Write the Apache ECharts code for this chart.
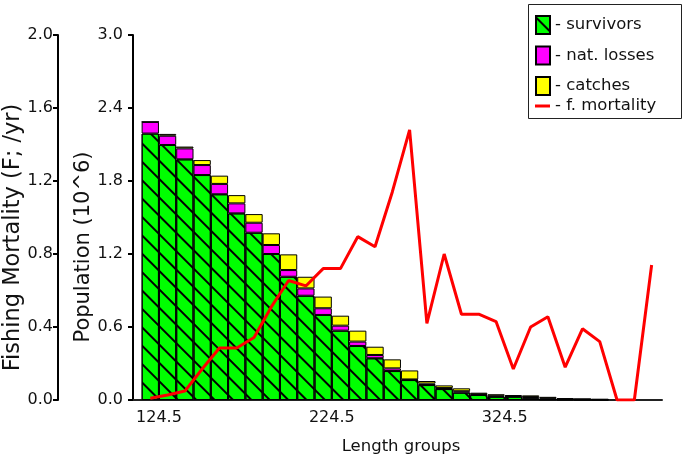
<!DOCTYPE html>
<html>
<head>
<meta charset="utf-8">
<script src="https://cdn.jsdelivr.net/npm/echarts@6/dist/echarts.min.js"></script>
<style>
html,body{margin:0;padding:0;background:#fff;}
#c{width:685px;height:460px;}
</style>
</head>
<body>
<div id="c"></div>
<script>
// Length-group mid points (bars and line points)
const lengthMid = [119.5,129.5,139.5,149.5,159.5,169.5,179.5,189.5,199.5,209.5,
  219.5,229.5,239.5,249.5,259.5,269.5,279.5,289.5,299.5,309.5,
  319.5,329.5,339.5,349.5,359.5,369.5,379.5,389.5,399.5,409.5];
// Population (10^6) per length group
const survivors = [2.19,2.096,1.978,1.849,1.691,1.534,1.375,1.20,1.013,0.857,
  0.699,0.570,0.444,0.343,0.238,0.164,0.123,0.090,0.060,0.041,
  0.027,0.027,0.014,0.006,0.004,0.003,0.002];
const natLosses = [0.096,0.076,0.090,0.082,0.085,0.082,0.082,0.074,0.055,0.060,
  0.055,0.041,0.036,0.027,0.022,0.005,0.012,0.008,0.012,0.006,
  0.008,0.005,0.010,0.008,0.004,0.003,0.002];
const catches = [0.0,0.015,0.015,0.041,0.068,0.068,0.071,0.096,0.129,0.096,
  0.096,0.082,0.090,0.068,0.074,0.074,0.021,0.022,0.024,0.013,
  0.012,0.008,0.014,0.012,0.006,0.004,0.003];
// Fishing mortality F (/yr)
const fMortality = [0.01,0.027,0.049,0.17,0.285,0.285,0.342,0.51,0.655,0.625,
  0.72,0.72,0.895,0.84,1.14,1.48,0.42,0.80,0.47,0.47,
  0.43,0.17,0.40,0.456,0.18,0.39,0.32,0.0,0.0,0.74];
const xTickLabels = [124.5,224.5,324.5];

const FONT = 'DejaVu Sans';
const TXT = '#111';
// bar data as [value, length] so the stacked dimension is the value (encode swaps axes)
const barPairs = arr => arr.map((v,i)=>[v, lengthMid[i]]);
const linePairs = arr => arr.map((v,i)=>[lengthMid[i], v]);

const chart = echarts.init(document.getElementById('c'), null, {renderer:'canvas'});
const barCommon = {
  type:'bar', stack:'pop', yAxisIndex:1, barWidth:17.3,
  encode:{x:1, y:0}
};
chart.setOption({
  animation:false,
  backgroundColor:'#fff',
  grid:{left:133, right:23, top:35, bottom:60},
  xAxis:{
    type:'value', min:109.5, max:415.5,
    axisLine:{show:true, lineStyle:{color:'#222', width:2}},
    axisTick:{show:false},
    splitLine:{show:false},
    axisLabel:{customValues:xTickLabels, formatter:v=>v.toFixed(1), margin:10,
      fontSize:16, fontFamily:FONT, color:TXT},
    name:'Length groups', nameLocation:'middle', nameGap:38,
    nameTextStyle:{fontSize:16.5, fontFamily:FONT, color:TXT, padding:[0,0,0,7]}
  },
  yAxis:[
    {type:'value', min:0, max:2, interval:0.4, position:'left', offset:75,
      axisLine:{show:true, lineStyle:{color:'#000', width:2}},
      axisTick:{show:true, length:5, lineStyle:{color:'#000', width:2}},
      axisLabel:{formatter:v=>v.toFixed(1), margin:5, fontSize:16, fontFamily:FONT, color:TXT},
      splitLine:{show:false}},
    {type:'value', min:0, max:3, interval:0.6, position:'left',
      axisLine:{show:true, lineStyle:{color:'#000', width:2}},
      axisTick:{show:true, length:5, lineStyle:{color:'#000', width:2}},
      axisLabel:{formatter:v=>v.toFixed(1), margin:10, fontSize:16, fontFamily:FONT, color:TXT},
      splitLine:{show:false}}
  ],
  legend:[
    {data:['survivors','nat. losses','catches'], icon:'rect', orient:'vertical', left:535, top:15,
      padding:0, itemWidth:14, itemHeight:18, itemGap:10.5, selectedMode:false,
      formatter:'- {name}',
      textStyle:{fontSize:16.5, lineHeight:18, fontFamily:FONT, color:TXT}},
    {data:[{name:'f. mortality', icon:'path://M0,0H15V3H0Z'}], orient:'vertical', left:535, top:97,
      padding:0, itemWidth:15, itemHeight:18, selectedMode:false,
      formatter:'- {name}',
      itemStyle:{color:'#ff0000'},
      textStyle:{fontSize:16.5, lineHeight:18, fontFamily:FONT, color:TXT}}
  ],
  graphic:[
    {type:'rect', shape:{x:528.5, y:4.5, width:153, height:114},
      style:{fill:null, stroke:'#222', lineWidth:1}, z:10},
    {type:'text', x:13, y:237.5, rotation:Math.PI/2,
      style:{text:'Fishing Mortality (F; /yr)', font:'22.5px "DejaVu Sans"', align:'center', verticalAlign:'middle', fill:TXT}},
    {type:'text', x:84, y:247, rotation:Math.PI/2,
      style:{text:'Population (10^6)', font:'21px "DejaVu Sans"', align:'center', verticalAlign:'middle', fill:TXT}}
  ],
  series:[
    Object.assign({}, barCommon, {name:'survivors', data:barPairs(survivors),
      itemStyle:{color:'#00ff00', borderColor:'#000', borderWidth:1,
        decal:{symbol:'rect', symbolSize:1, dashArrayX:[1,0], dashArrayY:[1.5,10.5], rotation:Math.PI/4, color:'#000'}}}),
    Object.assign({}, barCommon, {name:'nat. losses', data:barPairs(natLosses),
      itemStyle:{color:'#ff00ff', borderColor:'#000', borderWidth:1}}),
    Object.assign({}, barCommon, {name:'catches', data:barPairs(catches),
      itemStyle:{color:'#ffff00', borderColor:'#000', borderWidth:1}}),
    {type:'line', name:'f. mortality', yAxisIndex:0, data:linePairs(fMortality), symbol:'none',
      lineStyle:{color:'#ff0000', width:3}, itemStyle:{color:'#ff0000'}, z:5}
  ]
});
</script>
</body>
</html>
